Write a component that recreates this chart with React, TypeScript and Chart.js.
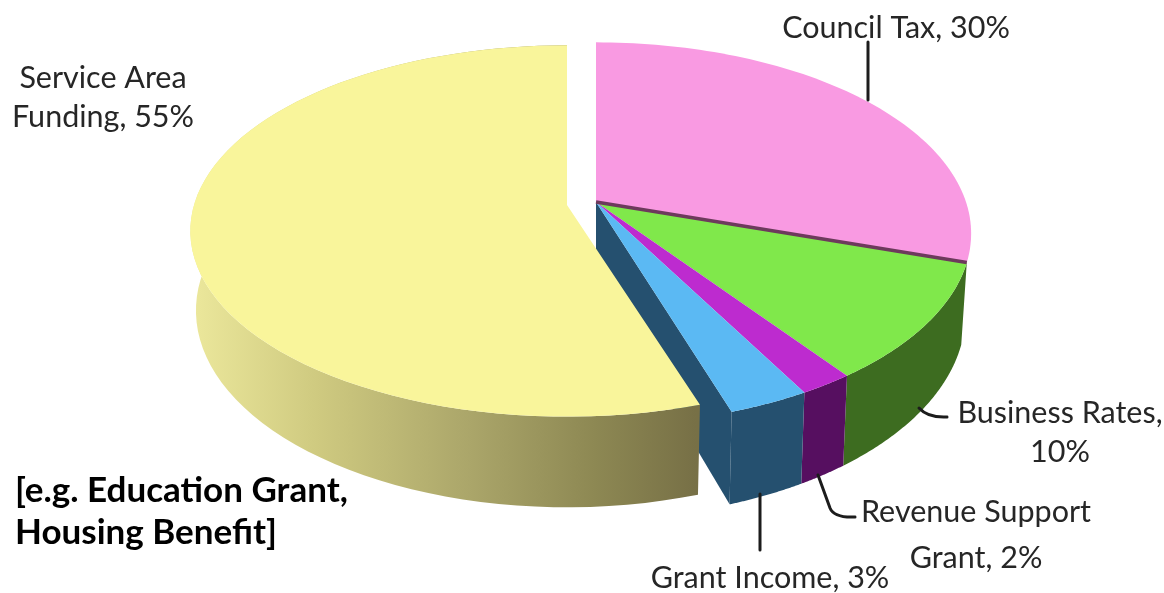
import React, { useEffect, useRef } from "react";
import { Chart, registerables } from "chart.js";

Chart.register(...registerables);

const categories = ["Council Tax", "Business Rates", "Revenue Support Grant", "Grant Income", "Service Area Funding"];
const shares = [30, 10, 2, 3, 55];
const topColors = ["#f99ae2", "#80e84b", "#bd2bcf", "#5bb9f3", "#f9f59b"];
const wallColors = ["#6d3a5c", "#3d6c20", "#560f60", "#25506f", "#b0ab6a"];

const sans = "Lato, 'Open Sans', sans-serif";

// Perspective of the tilted disc: the centre sits above the middle of the ellipse.
const mainDisc = { cx: 596, cy: 202, rx: 370, ry: 186, p: 0.165 };
const yellowDisc = { cx: 567, cy: 205, rx: 373, ry: 182, p: 0.14 };
const wallDepth = 78;
const wallInset = 0.985;

const captions = [
  { lines: ["Council Tax, 30%"], x: 896, y: [28] },
  { lines: ["Business Rates,", "10%"], x: 1060, y: [413, 452] },
  { lines: ["Revenue Support", "Grant, 2%"], x: 976, y: [512, 558] },
  { lines: ["Grant Income, 3%"], x: 770, y: [578] },
  { lines: ["Service Area", "Funding, 55%"], x: 103, y: [78, 117] },
];
const note = ["[e.g. Education Grant,", "Housing Benefit]"];

type Disc = typeof mainDisc;

function project(d: Disc, theta: number, r: number, depth: boolean) {
  const u = Math.sin(theta) * r;
  const v = -Math.cos(theta) * r;
  const w = 1 - d.p * v;
  const x = (d.rx * u) / w;
  const y = (d.ry * v) / w;
  if (!depth) return [d.cx + x, d.cy + y];
  return [d.cx + x * wallInset, d.cy + y + wallDepth / w];
}

const STEPS = 80;

function topPath(ctx: CanvasRenderingContext2D, d: Disc, a: number, b: number) {
  ctx.beginPath();
  ctx.moveTo(d.cx, d.cy);
  for (let i = 0; i <= STEPS; i++) {
    const [x, y] = project(d, a + ((b - a) * i) / STEPS, 1, false);
    ctx.lineTo(x, y);
  }
  ctx.closePath();
}

function wallPath(ctx: CanvasRenderingContext2D, d: Disc, a: number, b: number) {
  ctx.beginPath();
  for (let i = 0; i <= STEPS; i++) {
    const [x, y] = project(d, a + ((b - a) * i) / STEPS, 1, false);
    i ? ctx.lineTo(x, y) : ctx.moveTo(x, y);
  }
  for (let i = STEPS; i >= 0; i--) {
    const [x, y] = project(d, a + ((b - a) * i) / STEPS, 1, true);
    ctx.lineTo(x, y);
  }
  ctx.closePath();
}

const pie3d = {
  id: "pie3d",
  beforeDatasetsDraw(chart: any) {
    const ctx: CanvasRenderingContext2D = chart.ctx;
    const arcs = chart.getDatasetMeta(0).data;
    const ang = arcs.map((el: any) => {
      const { startAngle, endAngle } = el.getProps(["startAngle", "endAngle"], true);
      return [startAngle + Math.PI / 2, endAngle + Math.PI / 2];
    });
    const fills = arcs.map((el: any) => el.options.backgroundColor);
    const last = arcs.length - 1;
    ctx.save();
    (ctx as any).filter = "blur(0.7px)";

    // walls, back to front
    for (let i = 1; i < last; i++) {
      ctx.fillStyle = wallColors[i];
      wallPath(ctx, mainDisc, ang[i][0], ang[i][1]);
      ctx.fill();
    }
    // exposed cut face of the wedge next to the pulled-out slice
    const blueEnd = ang[last - 1][1];
    const a = project(mainDisc, blueEnd, 1, false);
    const b = project(mainDisc, blueEnd, 1, true);
    ctx.fillStyle = wallColors[last - 1];
    ctx.beginPath();
    ctx.moveTo(mainDisc.cx, mainDisc.cy);
    ctx.lineTo(a[0], a[1]);
    ctx.lineTo(b[0], b[1]);
    ctx.lineTo(mainDisc.cx, mainDisc.cy + wallDepth);
    ctx.closePath();
    ctx.fill();

    // wall of the pulled-out slice, shaded left to right
    const g = ctx.createLinearGradient(190, 0, 696, 0);
    g.addColorStop(0, "#ece89c");
    g.addColorStop(0.25, "#cfca80");
    g.addColorStop(0.55, "#aba66a");
    g.addColorStop(0.8, "#8d8853");
    g.addColorStop(1, "#777046");
    ctx.fillStyle = g;
    wallPath(ctx, yellowDisc, ang[last][0], ang[last][1]);
    ctx.fill();

    // top faces
    for (let i = 0; i < arcs.length; i++) {
      const d = i === last ? yellowDisc : mainDisc;
      ctx.fillStyle = fills[i];
      topPath(ctx, d, ang[i][0], ang[i][1]);
      ctx.fill();
    }
    // dark seam under the first slice
    const s = project(mainDisc, ang[0][1], 1, false);
    ctx.strokeStyle = wallColors[0];
    ctx.lineWidth = 3.5;
    ctx.beginPath();
    ctx.moveTo(mainDisc.cx, mainDisc.cy);
    ctx.lineTo(s[0], s[1]);
    ctx.stroke();
    ctx.restore();
    return false;
  },
  afterDraw(chart: any) {
    const ctx: CanvasRenderingContext2D = chart.ctx;
    ctx.save();
    ctx.strokeStyle = "#1c1c1c";
    ctx.lineWidth = 3;
    ctx.lineCap = "round";
    ctx.lineJoin = "round";
    (ctx as any).filter = "blur(0.5px)";
    // leader lines
    ctx.beginPath();
    ctx.moveTo(868, 42);
    ctx.lineTo(868, 100);
    ctx.moveTo(919, 408);
    ctx.quadraticCurveTo(928, 418, 947, 417);
    ctx.moveTo(818, 475);
    ctx.lineTo(830, 508);
    ctx.quadraticCurveTo(834, 518, 855, 517);
    ctx.moveTo(760, 494);
    ctx.lineTo(760, 550);
    ctx.stroke();

    ctx.textAlign = "center";
    ctx.textBaseline = "middle";
    ctx.fillStyle = "#262626";
    ctx.font = `30.5px ${sans}`;
    captions.forEach((c) => c.lines.forEach((t, i) => ctx.fillText(t, c.x, c.y[i])));

    (ctx as any).filter = "none";
    ctx.textAlign = "left";
    ctx.fillStyle = "#000000";
    ctx.font = `bold 35px ${sans}`;
    ctx.fillText(note[0], 15, 491);
    ctx.fillText(note[1], 15, 533);
    ctx.restore();
  },
};

export default function App() {
  const ref = useRef<HTMLCanvasElement>(null);
  useEffect(() => {
    const chart = new Chart(ref.current!, {
      type: "pie",
      data: {
        labels: categories,
        datasets: [{ data: shares, backgroundColor: topColors, borderWidth: 0 }],
      },
      options: {
        responsive: false,
        animation: false,
        plugins: { legend: { display: false }, tooltip: { enabled: false } },
      },
      plugins: [pie3d],
    } as any);
    return () => chart.destroy();
  }, []);
  return (
    <div style={{ position: "absolute", left: 0, top: 0, width: 1164, height: 593, background: "#fff" }}>
      <canvas ref={ref} width={1164} height={593} style={{ display: "block" }} />
    </div>
  );
}
